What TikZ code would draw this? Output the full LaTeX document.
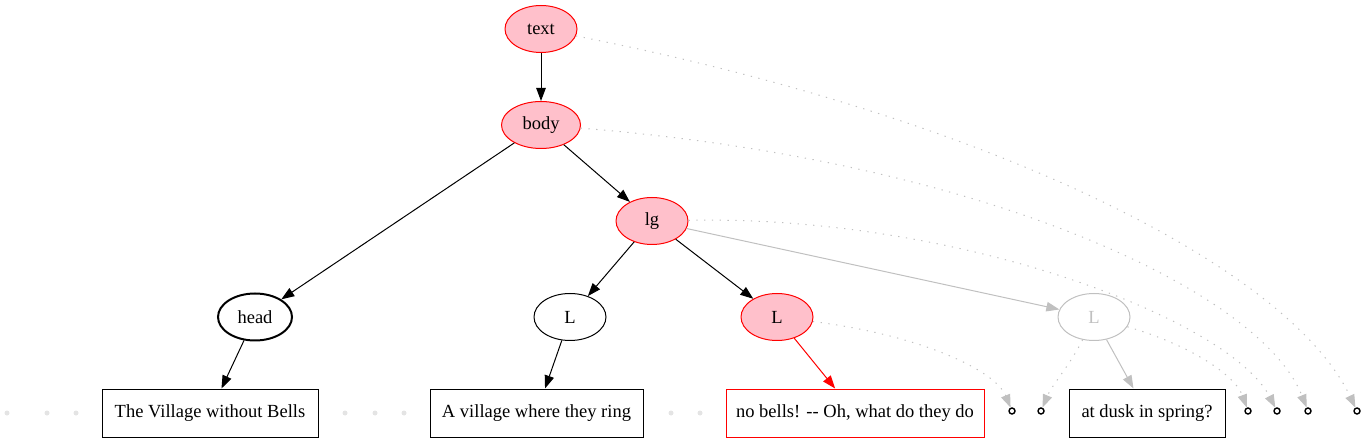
\documentclass[tikz,border=0pt]{standalone}
\usepackage{fontspec}
\setmainfont{Liberation Serif}
\newfontfamily\gvf{Liberation Serif}
\usetikzlibrary{shapes.geometric,arrows.meta}
\definecolor{gvpink}{HTML}{FFC0CB}
\definecolor{gvgray}{HTML}{C0C0C0}
\definecolor{dotgray}{HTML}{E4E4E4}
\begin{document}
\begin{tikzpicture}[x=1pt,y=-1pt,
 every node/.style={font=\gvf\fontsize{18.5}{22}\selectfont},
 ell/.style={ellipse, draw, minimum width=72pt, minimum height=47pt, inner sep=0pt, line width=1pt},
 act/.style={ell, draw=red, fill=gvpink},
 leaf/.style={rectangle, draw, line width=1pt, minimum height=48pt, inner sep=0pt},
 arr/.style={-{Triangle[length=13pt,width=9.5pt]}, line width=1pt},
 dotarr/.style={-{Triangle[length=13pt,width=9.5pt]}, gvgray, line width=1pt, dash pattern=on 1.3pt off 6.5pt},
 endpt/.style={circle, draw, fill=white, line width=1.4pt, minimum size=6pt, inner sep=0pt},
 gdot/.style={circle, fill=dotgray, minimum size=5pt, inner sep=0pt}]
\useasboundingbox (0,0) rectangle (1365,443);
% nodes
\node[act] (text) at (541,29) {text};
\node[act, minimum width=79pt] (body) at (541,125) {body};
\node[act] (lg) at (652,221) {lg};
\node[ell, minimum width=74pt, line width=2pt] (head) at (255,317) {head};
\node[ell] (L1) at (570,317) {L};
\node[act] (L2) at (777,317) {L};
\node[ell, draw=gvgray, text=gvgray] (L3) at (1094,317) {L};
\node[leaf, minimum width=216pt] (b1) at (210,413) {The Village without Bells};
\node[leaf, minimum width=213pt] (b2) at (536.5,413) {A village where they ring};
\node[leaf, minimum width=258pt, draw=red] (b3) at (855,413) {no bells! -{}- Oh, what do they do};
\node[leaf, minimum width=156pt] (b4) at (1147,413) {at dusk in spring?};
% gray points
\node[gdot] (g1) at (7,413) {};
\node[gdot] (g2) at (47,413) {};
\node[gdot] (g3) at (76,413) {};
\node[gdot] (g4) at (345,413) {};
\node[gdot] (g5) at (375,413) {};
\node[gdot] (g6) at (404,413) {};
\node[gdot] (g7) at (671,413) {};
\node[gdot] (g8) at (700,413) {};
% end points
\node[endpt] (e1) at (1012,411) {};
\node[endpt] (e2) at (1041,411) {};
\node[endpt] (e3) at (1248,411) {};
\node[endpt] (e4) at (1277,411) {};
\node[endpt] (e5) at (1308,411) {};
\node[endpt] (e6) at (1357,411) {};
% edges
\draw[arr] (text) -- (body);
\draw[arr] (body) -- (head);
\draw[arr] (body) -- (lg);
\draw[arr] (lg) -- (L1);
\draw[arr] (lg) -- (L2);
\draw[arr, gvgray] (lg) -- (L3);
\draw[arr] (head) -- (b1);
\draw[arr] (L1) -- (b2);
\draw[arr, red] (L2) -- (b3);
\draw[arr, gvgray] (L3) -- (b4);
% dotted edges
\draw[dotarr] (text) .. controls (1000,120) and (1290,270) .. (e6);
\draw[dotarr] (body) .. controls (980,160) and (1260,290) .. (e5);
\draw[dotarr] (lg) .. controls (960,215) and (1230,320) .. (e4);
\draw[dotarr] (L3) .. controls (1190,345) and (1235,375) .. (e3);
\draw[dotarr] (L3) .. controls (1070,365) and (1052,385) .. (e2);
\draw[dotarr] (L2) .. controls (920,335) and (995,370) .. (e1);
\end{tikzpicture}
\end{document}
